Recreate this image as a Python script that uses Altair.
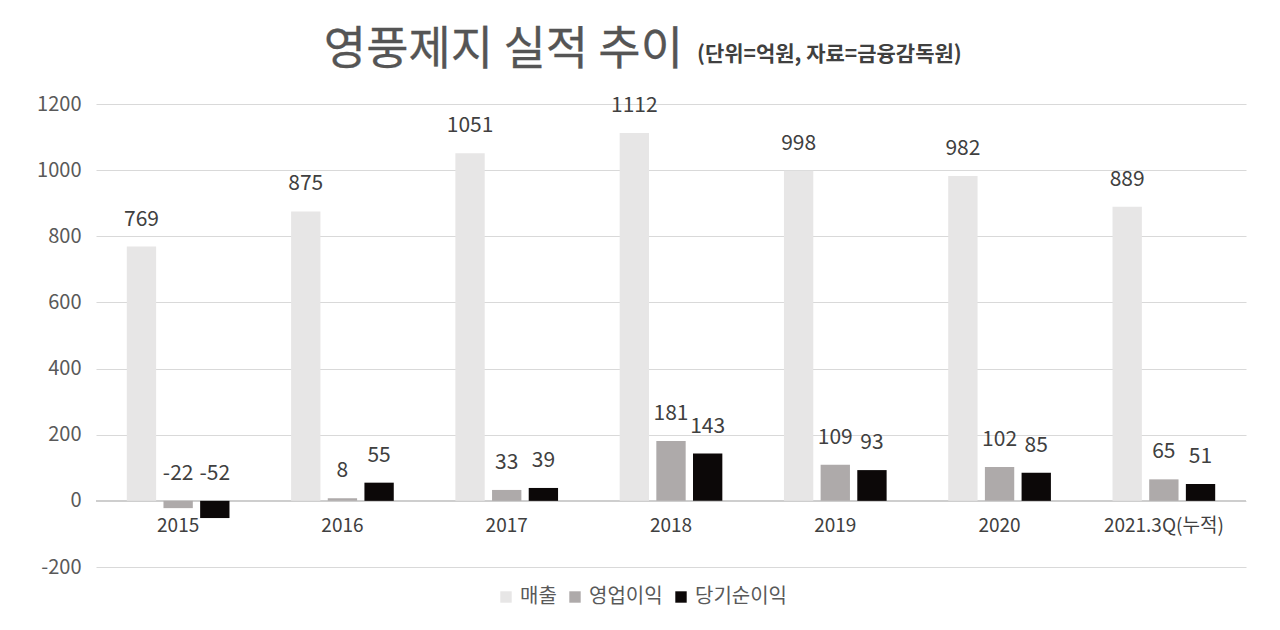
import altair as alt
import pandas as pd

years = ["2015", "2016", "2017", "2018", "2019", "2020", "2021.3Q(누적)"]
series = ["매출", "영업이익", "당기순이익"]
sales = [769, 875, 1051, 1112, 998, 982, 889]
op_income = [-22, 8, 33, 181, 109, 102, 65]
net_income = [-52, 55, 39, 143, 93, 85, 51]
colors = ["#e7e6e6", "#aeaaaa", "#0c0808"]
y_ticks = [-200, 0, 200, 400, 600, 800, 1000, 1200]

rows = []
for i, y in enumerate(years):
    for s, vals in zip(series, [sales, op_income, net_income]):
        rows.append({"year": y, "series": s, "value": vals[i],
                     "label": str(vals[i]), "labelpos": max(vals[i], 0)})
df = pd.DataFrame(rows)
cats = pd.DataFrame({"year": years, "zero": [0] * len(years)})

FONT = "Noto Sans CJK KR"

xenc = alt.X("year:N", sort=years, axis=None,
             scale=alt.Scale(paddingInner=0.375, paddingOuter=0.1875))
xoff = alt.XOffset("series:N", sort=series, scale=alt.Scale(paddingInner=0.2))
yscale = alt.Scale(domain=[-200, 1200], nice=False)

bars = alt.Chart(df).mark_bar().encode(
    x=xenc, xOffset=xoff,
    y=alt.Y("value:Q", scale=yscale, title=None,
            axis=alt.Axis(values=y_ticks, grid=True, gridColor="#d9d9d9", domain=False,
                          ticks=False, labelPadding=15, labelFontSize=20,
                          labelExpr="'' + datum.value",
                          labelColor="#595959", labelFont=FONT)),
    color=alt.Color("series:N", sort=series,
                    scale=alt.Scale(domain=series, range=colors),
                    legend=alt.Legend(title=None, orient="none", direction="horizontal",
                                      legendX=400, legendY=483, symbolType="square",
                                      symbolSize=130, labelFontSize=20, labelFont=FONT,
                                      labelColor="#595959", columnPadding=8,
                                      symbolStrokeWidth=0, labelOffset=4)),
)

zero = alt.Chart(cats).mark_rule(color="#cfcfcf", strokeWidth=1).encode(y=alt.Y("zero:Q", scale=yscale))

labels = alt.Chart(df).mark_text(dy=-27, fontSize=21, font=FONT, color="#404040").encode(
    x=xenc, xOffset=xoff,
    y=alt.Y("labelpos:Q", scale=yscale),
    text=alt.Text("label:N"),
)

catlabels = alt.Chart(cats).mark_text(dy=25, fontSize=19, font=FONT, color="#404040").encode(
    x=xenc, y=alt.Y("zero:Q", scale=yscale), text="year:N"
)

title = alt.Chart(cats.head(1)).mark_text(
    fontSize=46, font=FONT, color="#555555", align="right", baseline="alphabetic",
    stroke="#555555", strokeWidth=0.3
).encode(x=alt.value(587), y=alt.value(-40), text=alt.value("영풍제지 실적 추이"))

subtitle = alt.Chart(cats.head(1)).mark_text(
    fontSize=21, font=FONT, fontWeight="bold", color="#404040", align="left", baseline="alphabetic"
).encode(x=alt.value(601), y=alt.value(-43), text=alt.value("(단위=억원, 자료=금융감독원)"))

chart = alt.layer(zero, bars, labels, catlabels, title, subtitle).properties(
    width=1150, height=463,
    autosize=alt.AutoSizeParams(type="none"),
    padding={"left": 88, "top": 96, "right": 20, "bottom": 60},
).configure(background="white", view=alt.ViewConfig(stroke=None))

chart.save("out.html", embed_options={"renderer": "svg", "actions": False})
